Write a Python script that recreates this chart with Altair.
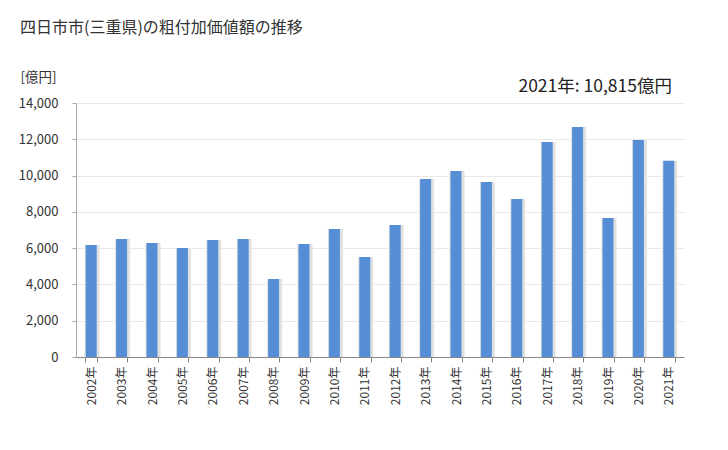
import altair as alt
import pandas as pd

years = [f"{y}年" for y in range(2002, 2022)]
values = [6180, 6500, 6290, 6010, 6450, 6500, 4300, 6230, 7060, 5510,
          7280, 9810, 10250, 9650, 8710, 11850, 12680, 7660, 11960, 10815]
y_ticks = [0, 2000, 4000, 6000, 8000, 10000, 12000, 14000]

df = pd.DataFrame({"year": years, "value": values})
last = df.tail(1).copy()
last["label"] = last.apply(lambda r: f"{r['year']}: {r['value']:,}億円", axis=1)

FONT = "Noto Sans CJK JP"

x_enc = alt.X("year:N", sort=years,
              scale=alt.Scale(paddingInner=0.62, paddingOuter=0.31),
              axis=alt.Axis(title=None, labelAngle=-90, labelFontSize=12,
                            labelColor="#333333", labelFont=FONT,
                            domainColor="#888888", tickColor="#888888",
                            tickSize=5, tickBand="extent", labelPadding=4,
                            grid=False))
y_enc = alt.Y("value:Q", scale=alt.Scale(domain=[0, 14000]),
              axis=alt.Axis(values=y_ticks, format=",d", title="[億円]",
                            titleAngle=0, titleAlign="left", titleBaseline="bottom",
                            titleX=-56, titleY=-19, titleFontSize=13.5,
                            titleFontWeight="normal", titleColor="#333333",
                            titleFont=FONT,
                            labelFontSize=13, labelColor="#333333", labelFont=FONT,
                            labelPadding=14, tickSize=4, tickColor="#aaaaaa",
                            labelOverlap=False,
                            domainColor="#aaaaaa", gridColor="#e8e8e8"))

shadow = alt.Chart(df).mark_bar(color="#e2e2e2", size=15, xOffset=1).encode(
    x=x_enc, y=y_enc,
)

bars = alt.Chart(df).mark_bar(color="#558ed5", size=11).encode(
    x=x_enc, y=y_enc,
)

annot = alt.Chart(last).mark_text(align="right", baseline="bottom", fontSize=17.5,
                                   font=FONT, color="#222222").encode(
    x=alt.value(596), y=alt.value(-7), text="label:N"
)

chart = alt.layer(shadow, bars, annot).properties(
    width=608, height=254,
    autosize=alt.AutoSizeParams(type="none"),
    padding={"left": 68, "top": 95, "right": 36, "bottom": 80},
    title=alt.TitleParams("四日市市(三重県)の粗付加価値額の推移", anchor="start",
                          frame="group", dx=-56, offset=34, fontSize=16,
                          fontWeight="normal", font=FONT, color="#333333"),
).configure_view(stroke=None)

chart.save("out.html", embed_options={"renderer": "svg", "actions": False})
